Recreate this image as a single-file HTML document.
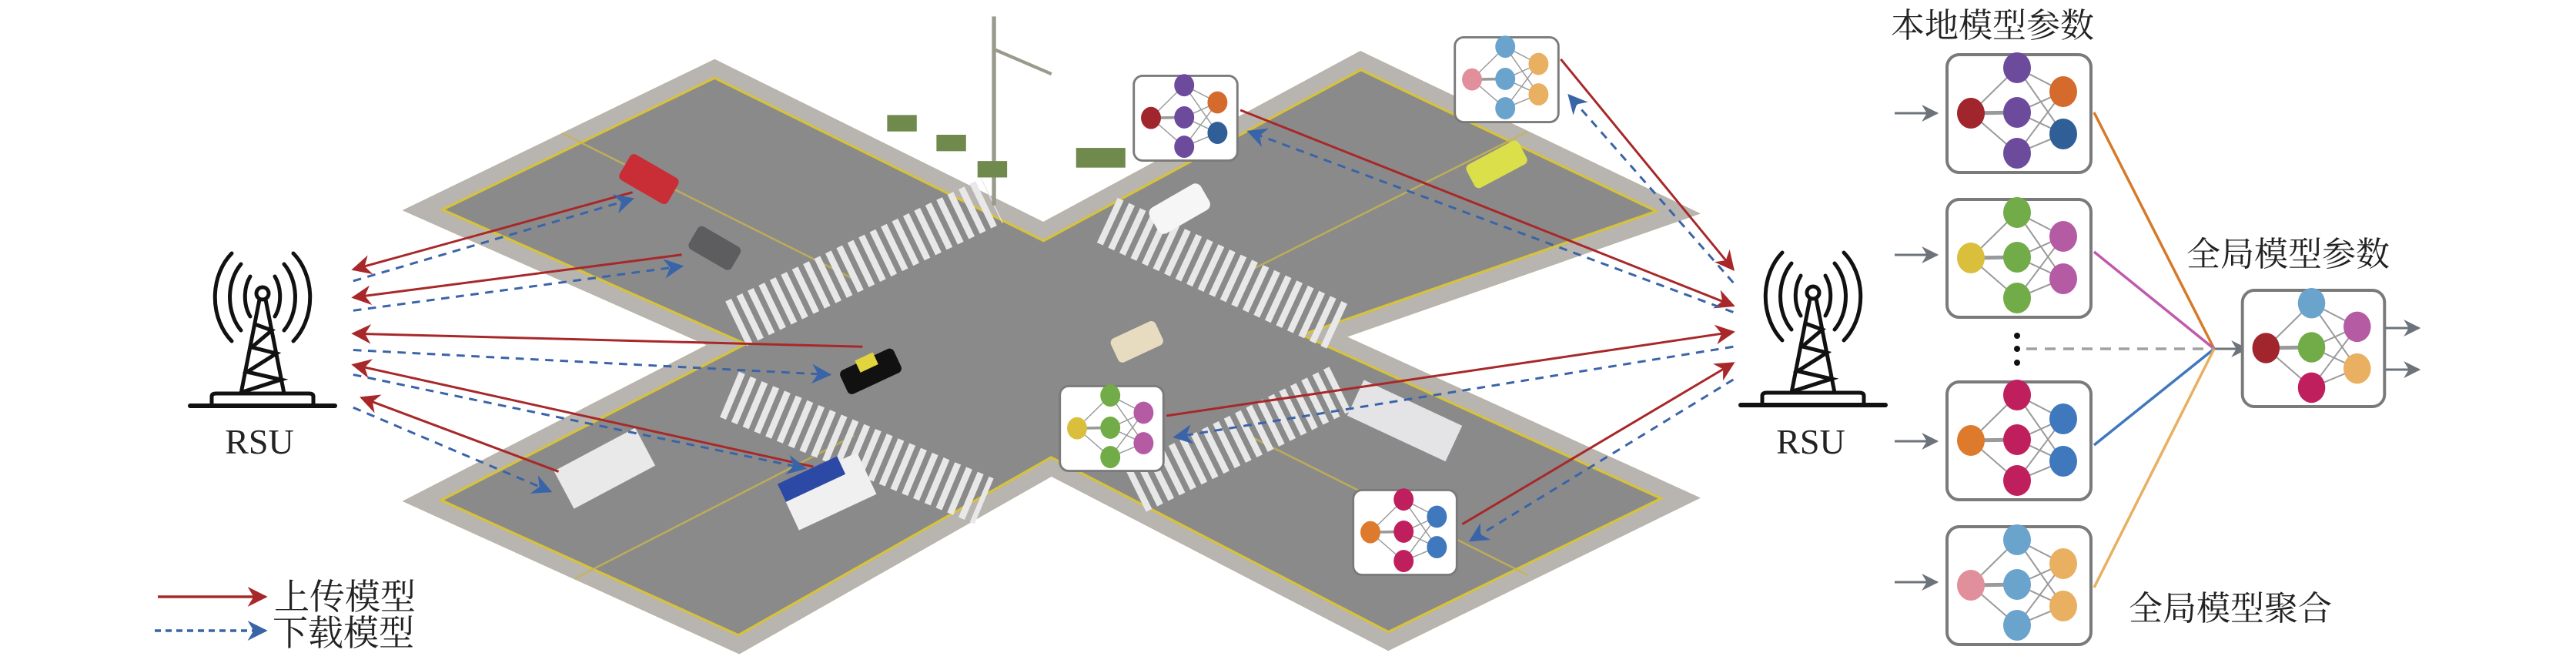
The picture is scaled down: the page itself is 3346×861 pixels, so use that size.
<!DOCTYPE html>
<html><head><meta charset="utf-8"><style>
html,body{margin:0;padding:0;background:#fff;}
svg{display:block;}
text{font-family:"Liberation Serif","Noto Serif CJK SC","Noto Sans CJK SC",serif;fill:#222;}
</style></head><body>
<svg width="3346" height="861" viewBox="0 0 3346 861" xmlns="http://www.w3.org/2000/svg">
<defs>
<symbol id="nn" viewBox="0 0 191 157" overflow="visible">
<rect x="2" y="2" width="187" height="153" rx="16" fill="#fff" stroke="#7a7a7a" stroke-width="4"/>
<g stroke="#9a9a9a" stroke-width="2">
<line x1="33" y1="78" x2="93" y2="19"/><line x1="33" y1="78" x2="93" y2="77" stroke-width="5"/><line x1="33" y1="78" x2="93" y2="130"/>
<line x1="93" y1="19" x2="153" y2="50"/><line x1="93" y1="19" x2="153" y2="105"/>
<line x1="93" y1="77" x2="153" y2="50"/><line x1="93" y1="77" x2="153" y2="105"/>
<line x1="93" y1="130" x2="153" y2="50"/><line x1="93" y1="130" x2="153" y2="105"/>
</g>
<ellipse cx="33" cy="78" rx="18" ry="20" style="fill:var(--i)"/>
<ellipse cx="93" cy="19" rx="18" ry="20" style="fill:var(--m1)"/>
<ellipse cx="93" cy="77" rx="18" ry="20" style="fill:var(--m2)"/>
<ellipse cx="93" cy="130" rx="18" ry="20" style="fill:var(--m3)"/>
<ellipse cx="153" cy="50" rx="18" ry="20" style="fill:var(--o1)"/>
<ellipse cx="153" cy="105" rx="18" ry="20" style="fill:var(--o2)"/>
</symbol>
<marker id="ar" viewBox="0 0 10 10" refX="9" refY="5" markerWidth="15" markerHeight="12" markerUnits="userSpaceOnUse" orient="auto"><path d="M0,0 L10,5 L0,10 L3,5 Z" fill="#a8282a"/></marker>
<marker id="ab" viewBox="0 0 10 10" refX="9" refY="5" markerWidth="15" markerHeight="12" markerUnits="userSpaceOnUse" orient="auto"><path d="M0,0 L10,5 L0,10 L3,5 Z" fill="#3a64a8"/></marker>
<marker id="arL" viewBox="0 0 10 10" refX="9" refY="5" markerWidth="30" markerHeight="26" markerUnits="userSpaceOnUse" orient="auto"><path d="M0,0 L10,5 L0,10 L3,5 Z" fill="#a8282a"/></marker>
<marker id="abL" viewBox="0 0 10 10" refX="9" refY="5" markerWidth="30" markerHeight="26" markerUnits="userSpaceOnUse" orient="auto"><path d="M0,0 L10,5 L0,10 L3,5 Z" fill="#3a64a8"/></marker>
<marker id="ag" viewBox="0 0 10 10" refX="9" refY="5" markerWidth="24" markerHeight="22" markerUnits="userSpaceOnUse" orient="auto"><path d="M0,0 L10,5 L0,10 L3,5 Z" fill="#6d737a"/></marker>
<clipPath id="road"><polygon points="245,128 435,36 635,135 828,31 1035,130 820,205 1035,303 845,396 640,290 450,398 245,305 430,210"/></clipPath>
<symbol id="tower" viewBox="0 0 200 170" overflow="visible">
<g fill="none" stroke="#111" stroke-width="5" stroke-linecap="round">
<path d="M84,-22 A28,40 0 0 0 84,30"/><path d="M116,-22 A28,40 0 0 1 116,30"/>
<path d="M72,-38 A44,58 0 0 0 72,48"/><path d="M128,-38 A44,58 0 0 1 128,48"/>
<path d="M60,-52 A60,74 0 0 0 60,62"/><path d="M140,-52 A60,74 0 0 1 140,62"/>
<circle cx="100" cy="0" r="8"/>
<path d="M96,8 L72,130 M104,8 L128,130 M90,40 L112,48 L86,70 L118,78 L80,102 L124,112 L74,128"/>
<path d="M34,145 L34,134 Q34,130 40,130 L160,130 Q166,130 166,134 L166,145"/>
<path d="M6,146 L194,146" stroke-width="6"/>
</g>
</symbol>
</defs>

<g transform="scale(2.134)">
<g clip-path="url(#road)">
<rect x="0" y="0" width="1100" height="410" fill="#8a8a8a"/>
<polygon points="245,128 435,36 635,135 828,31 1035,130 820,205 1035,303 845,396 640,290 450,398 245,305 430,210" fill="none" stroke="#d6c23c" stroke-width="22"/>
<polygon points="245,128 435,36 635,135 828,31 1035,130 820,205 1035,303 845,396 640,290 450,398 245,305 430,210" fill="none" stroke="#b8b4b0" stroke-width="19"/>
<g stroke="#c8b450" stroke-width="1.2" opacity="0.8">
<line x1="340" y1="80" x2="520" y2="170"/><line x1="930" y1="80" x2="760" y2="165"/>
<line x1="350" y1="352" x2="520" y2="265"/><line x1="930" y1="350" x2="760" y2="265"/>
</g>
</g>
<g stroke="#e8e8e8" stroke-width="30" stroke-dasharray="4 3.5" fill="none">
<line x1="448" y1="197" x2="604" y2="122"/>
<line x1="674" y1="134" x2="817" y2="200"/>
<line x1="444" y1="240" x2="599" y2="305"/>
<line x1="691" y1="298" x2="817" y2="236"/>
</g>
<line x1="605" y1="10" x2="605" y2="125" stroke="#9a9a8c" stroke-width="2.5"/>
<line x1="605" y1="30" x2="640" y2="45" stroke="#9a9a8c" stroke-width="2"/>
<g fill="#6f8a4c"><rect x="540" y="70" width="18" height="10"/><rect x="570" y="82" width="18" height="10"/><rect x="595" y="98" width="18" height="10"/><rect x="655" y="90" width="30" height="12"/></g>
<g>
<rect x="378" y="100" width="34" height="18" rx="3" fill="#c92d35" transform="rotate(30 395 109)"/>
<rect x="420" y="143" width="30" height="16" rx="3" fill="#5d5d60" transform="rotate(30 435 151)"/>
<rect x="512" y="218" width="36" height="16" rx="3" fill="#111" transform="rotate(-25 530 226)"/>
<rect x="524" y="216" width="12" height="8" fill="#e2d43c" transform="rotate(-25 530 226)"/>
<rect x="677" y="200" width="30" height="16" rx="3" fill="#e8dcc0" transform="rotate(-25 692 208)"/>
<rect x="700" y="118" width="36" height="18" rx="4" fill="#f6f6f6" transform="rotate(-30 718 127)"/>
<rect x="893" y="92" width="36" height="16" rx="3" fill="#dbe04a" transform="rotate(-28 911 100)"/>
<rect x="340" y="272" width="56" height="26" fill="#e9e9ea" transform="rotate(-28 368 285)"/>
<rect x="478" y="285" width="52" height="28" fill="#f0f0f0" transform="rotate(-25 504 299)"/>
<rect x="478" y="282" width="40" height="12" fill="#2d49a6" transform="rotate(-25 504 299)"/>
<rect x="822" y="244" width="66" height="24" fill="#e4e4e6" transform="rotate(25 855 256)"/>
</g>
<g fill="none" stroke-width="1.4">
<line x1="385" y1="117" x2="215" y2="164" stroke="#a8282a" marker-end="url(#ar)"/>
<line x1="215" y1="171" x2="385" y2="121" stroke="#3a64a8" stroke-dasharray="5 4" marker-end="url(#ab)"/>
<line x1="415" y1="155" x2="215" y2="181" stroke="#a8282a" marker-end="url(#ar)"/>
<line x1="215" y1="189" x2="415" y2="162" stroke="#3a64a8" stroke-dasharray="5 4" marker-end="url(#ab)"/>
<line x1="525" y1="211" x2="215" y2="203" stroke="#a8282a" marker-end="url(#ar)"/>
<line x1="215" y1="213" x2="505" y2="228" stroke="#3a64a8" stroke-dasharray="5 4" marker-end="url(#ab)"/>
<line x1="495" y1="284" x2="215" y2="222" stroke="#a8282a" marker-end="url(#ar)"/>
<line x1="215" y1="228" x2="490" y2="285" stroke="#3a64a8" stroke-dasharray="5 4" marker-end="url(#ab)"/>
<line x1="340" y1="287" x2="220" y2="242" stroke="#a8282a" marker-end="url(#ar)"/>
<line x1="215" y1="248" x2="335" y2="299" stroke="#3a64a8" stroke-dasharray="5 4" marker-end="url(#ab)"/>
<line x1="755" y1="67" x2="1055" y2="186" stroke="#a8282a" marker-end="url(#ar)"/>
<line x1="1055" y1="190" x2="760" y2="80" stroke="#3a64a8" stroke-dasharray="5 4" marker-end="url(#ab)"/>
<line x1="950" y1="36" x2="1055" y2="164" stroke="#a8282a" marker-end="url(#ar)"/>
<line x1="1055" y1="172" x2="955" y2="58" stroke="#3a64a8" stroke-dasharray="5 4" marker-end="url(#ab)"/>
<line x1="710" y1="253" x2="1055" y2="202" stroke="#a8282a" marker-end="url(#ar)"/>
<line x1="1055" y1="211" x2="715" y2="266" stroke="#3a64a8" stroke-dasharray="5 4" marker-end="url(#ab)"/>
<line x1="890" y1="319" x2="1055" y2="221" stroke="#a8282a" marker-end="url(#ar)"/>
<line x1="1055" y1="231" x2="895" y2="329" stroke="#3a64a8" stroke-dasharray="5 4" marker-end="url(#ab)"/>
</g>
</g>

<use href="#nn" x="1471" y="97" width="138" height="113" style="--i:#a0252c;--m1:#6c4a9c;--m2:#6c4a9c;--m3:#6c4a9c;--o1:#d46a2c;--o2:#2f5f96"/>
<use href="#nn" x="1888" y="47" width="138" height="113" style="--i:#e28f9c;--m1:#6aa3cc;--m2:#6aa3cc;--m3:#6aa3cc;--o1:#e8b060;--o2:#e8b060"/>
<use href="#nn" x="1375" y="500" width="138" height="113" style="--i:#d9bf3c;--m1:#72ac48;--m2:#72ac48;--m3:#72ac48;--o1:#b45ba4;--o2:#b45ba4"/>
<use href="#nn" x="1756" y="635" width="138" height="113" style="--i:#de7a2c;--m1:#c01f5e;--m2:#c01f5e;--m3:#c01f5e;--o1:#3f78bd;--o2:#3f78bd"/>

<use href="#tower" x="241" y="381" width="200" height="170"/>
<use href="#tower" x="2255" y="380" width="200" height="170"/>
<text x="337" y="589" font-size="46" text-anchor="middle">RSU</text>
<text x="2352" y="589" font-size="46" text-anchor="middle">RSU</text>

<line x1="205" y1="775" x2="345" y2="775" stroke="#a8282a" stroke-width="3.5" marker-end="url(#arL)"/>
<line x1="201" y1="819" x2="345" y2="819" stroke="#3a64a8" stroke-width="3.5" stroke-dasharray="8 6" marker-end="url(#abL)"/>
<text x="356" y="791" font-size="46">上传模型</text>
<text x="354" y="838" font-size="46">下载模型</text>

<text x="2456" y="48" font-size="44">本地模型参数</text>
<text x="2840" y="345" font-size="44">全局模型参数</text>
<text x="2765" y="805" font-size="44">全局模型聚合</text>
<g stroke="#6d737a" stroke-width="3">
<line x1="2461" y1="147" x2="2516" y2="147" marker-end="url(#ag)"/>
<line x1="2461" y1="331" x2="2516" y2="331" marker-end="url(#ag)"/>
<line x1="2461" y1="573" x2="2516" y2="573" marker-end="url(#ag)"/>
<line x1="2461" y1="756" x2="2516" y2="756" marker-end="url(#ag)"/>
<line x1="2876" y1="453" x2="2918" y2="453" marker-end="url(#ag)"/>
<line x1="3082" y1="426" x2="3142" y2="426" marker-end="url(#ag)"/>
<line x1="3082" y1="480" x2="3142" y2="480" marker-end="url(#ag)"/>
</g>
<use href="#nn" x="2527" y="69" width="191" height="157" style="--i:#a0252c;--m1:#6c4a9c;--m2:#6c4a9c;--m3:#6c4a9c;--o1:#d46a2c;--o2:#2f5f96"/>
<use href="#nn" x="2527" y="257" width="191" height="157" style="--i:#d9bf3c;--m1:#72ac48;--m2:#72ac48;--m3:#72ac48;--o1:#b45ba4;--o2:#b45ba4"/>
<use href="#nn" x="2527" y="494" width="191" height="157" style="--i:#de7a2c;--m1:#c01f5e;--m2:#c01f5e;--m3:#c01f5e;--o1:#3f78bd;--o2:#3f78bd"/>
<use href="#nn" x="2527" y="682" width="191" height="157" style="--i:#e28f9c;--m1:#6aa3cc;--m2:#6aa3cc;--m3:#6aa3cc;--o1:#e8b060;--o2:#e8b060"/>
<use href="#nn" x="2908" y="375" width="194" height="155" style="--i:#a0252c;--m1:#6aa3cc;--m2:#72ac48;--m3:#c01f5e;--o1:#b45ba4;--o2:#e8b060"/>
<g stroke-width="3.5">
<line x1="2720" y1="146" x2="2876" y2="453" stroke="#d67a2a"/>
<line x1="2720" y1="327" x2="2876" y2="453" stroke="#c05aac"/>
<line x1="2720" y1="578" x2="2876" y2="453" stroke="#3f78bd"/>
<line x1="2720" y1="763" x2="2876" y2="453" stroke="#e8b060"/>
<line x1="2632" y1="453" x2="2876" y2="453" stroke="#a0a0a0" stroke-dasharray="14 10"/>
</g>
<g fill="#111"><circle cx="2620" cy="436" r="4"/><circle cx="2620" cy="453" r="4"/><circle cx="2620" cy="471" r="4"/></g>
</svg>
</body></html>
